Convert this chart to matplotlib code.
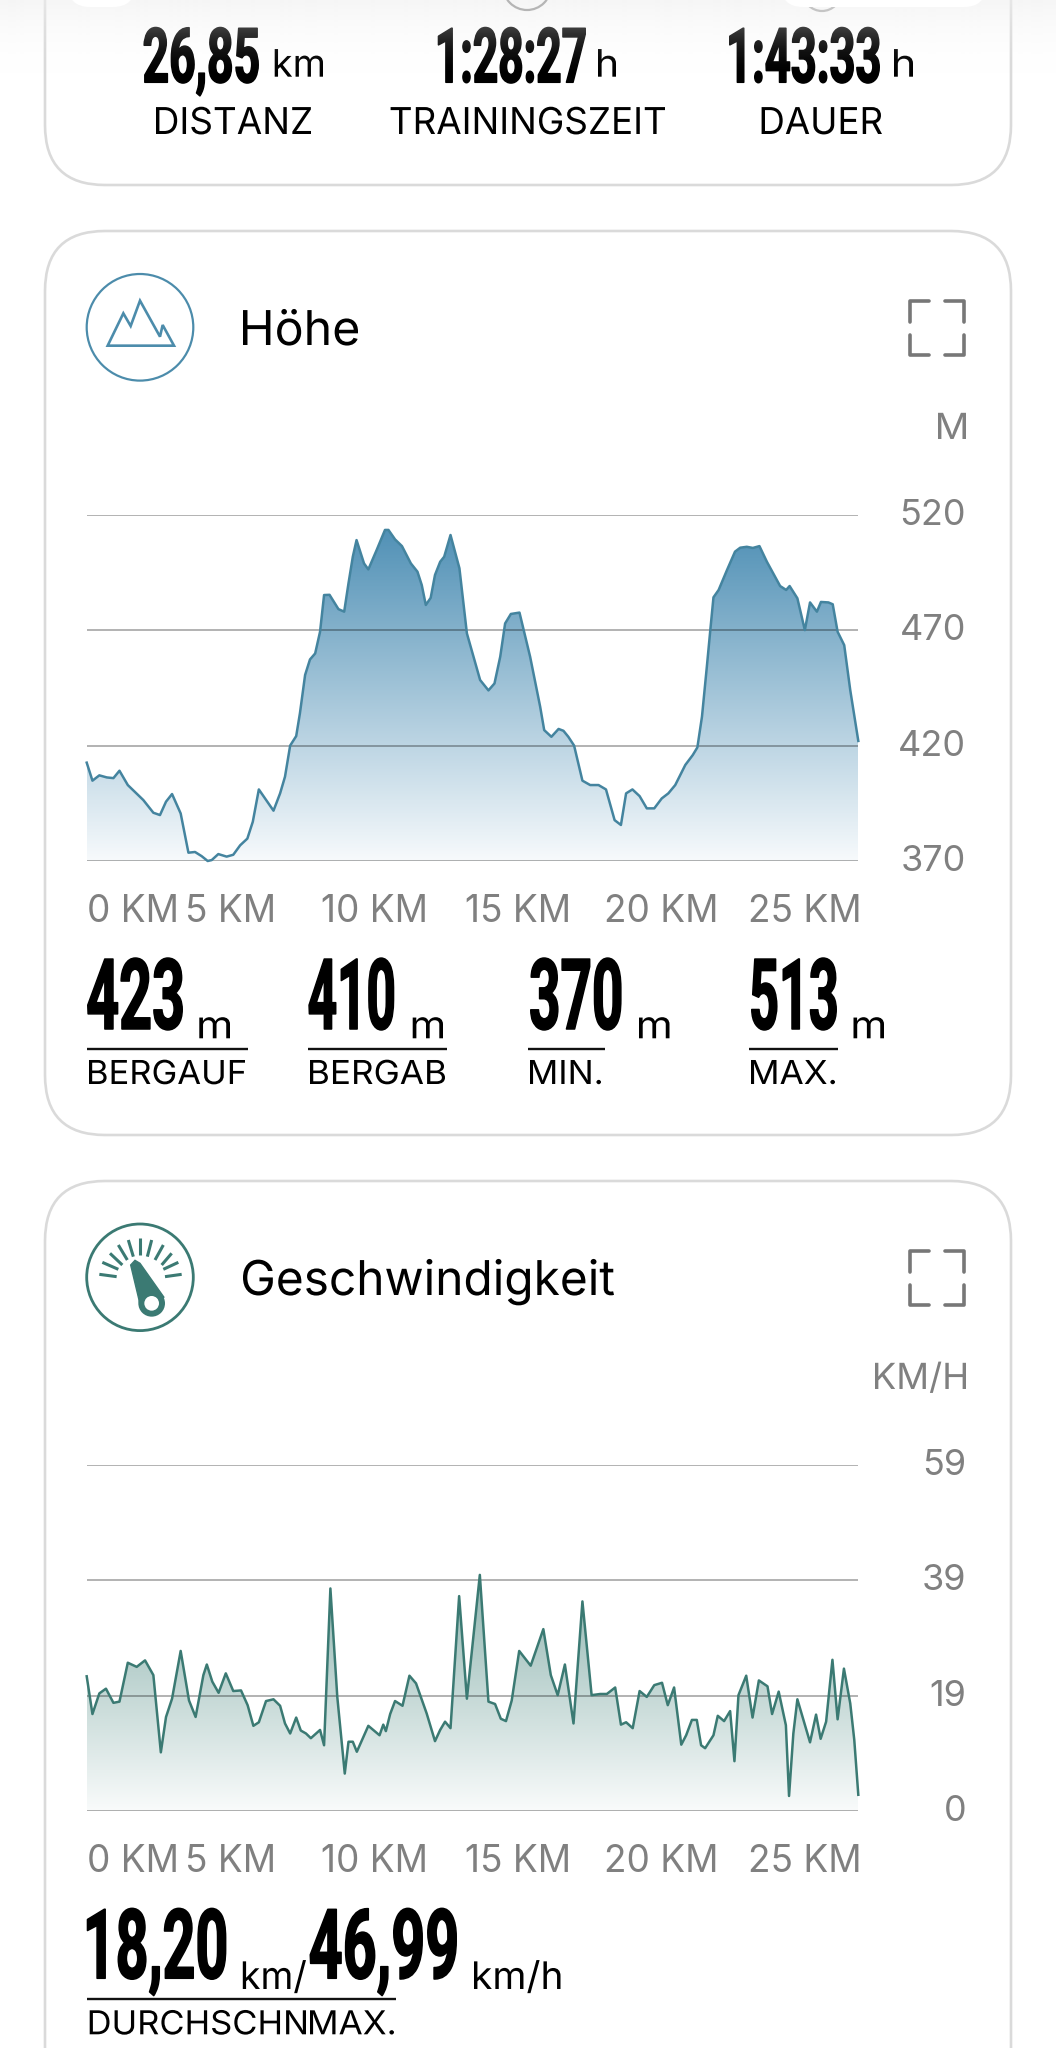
import numpy as np
import matplotlib
matplotlib.use("Agg")
import matplotlib.pyplot as plt
from matplotlib.colors import LinearSegmentedColormap
from matplotlib.font_manager import FontProperties
from matplotlib.patches import FancyBboxPatch, Circle, Polygon
from matplotlib.patheffects import AbstractPathEffect
from matplotlib.textpath import TextPath
from matplotlib.transforms import Affine2D, ScaledTranslation

# ---------- data ----------
km_ticks = [0, 5, 10, 15, 20, 25]
km_tick_labels = ["0 KM", "5 KM", "10 KM", "15 KM", "20 KM", "25 KM"]

alt_ticks = [370, 420, 470, 520]
alt_tick_labels = ["370", "420", "470", "520"]
alt_km = [0, .2, .44, .7, .93, 1.14, 1.43, 1.97, 2.32, 2.55, 2.76, 2.97, 3.27, 3.54, 3.77, 4.0, 4.21, 4.35, 4.58, 4.87,
          5.1, 5.34, 5.59, 5.78, 5.99, 6.5, 6.73, 6.9, 7.08, 7.29, 7.42, 7.6, 7.77, 7.95, 8.12, 8.26, 8.45, 8.76, 8.96,
          9.11, 9.26, 9.39, 9.65, 9.8, 10.09, 10.38, 10.5, 10.73, 10.97, 11.28, 11.51, 11.66, 11.8, 11.97, 12.12, 12.3,
          12.44, 12.66, 12.97, 13.11, 13.23, 13.46, 13.69, 13.98, 14.19, 14.39, 14.56, 14.76, 15.06, 15.43, 15.78,
          15.92, 16.17, 16.42, 16.59, 16.76, 16.96, 17.25, 17.52, 17.81, 18.07, 18.37, 18.59, 18.77, 18.99, 19.24,
          19.49, 19.75, 20.01, 20.24, 20.48, 20.83, 21.09, 21.25, 21.41, 21.58, 21.7, 21.81, 21.99, 22.28, 22.56, 22.74,
          22.97, 23.18, 23.41, 23.67, 24.13, 24.34, 24.46, 24.73, 24.99, 25.17, 25.41, 25.55, 25.81, 25.96, 26.13,
          26.36, 26.57, 26.85]
alt_m = [412.6, 404.8, 407.1, 406.2, 405.9, 409.1, 402.9, 396.4, 390.9, 389.9, 395.7, 399.0, 390.6, 373.6, 373.9, 372.1,
         370, 370.4, 373, 371.9, 372.7, 376.8, 379.7, 387, 401, 391.8, 399.3, 406.5, 420, 424.1, 434, 450.6, 457.3,
         459.9, 469.3, 485.2, 485.3, 479.1, 478, 490.3, 501.8, 509, 498.9, 496.3, 504.7, 513.4, 513.4, 509.3, 506.4,
         498.9, 495.3, 489.5, 480.9, 484, 493.9, 499.6, 501.8, 511.2, 496.8, 481.6, 468.6, 458.5, 448.4, 443.9, 446.9,
         458.5, 472.9, 477, 477.6, 458.5, 436.8, 426.7, 423.8, 427.2, 426.4, 423.8, 420, 404.8, 402.9, 402.9, 401,
         387.7, 385.6, 399.3, 401, 398.1, 392.8, 392.8, 397.1, 399.3, 402.9, 411.6, 415.9, 419.2, 432.5, 454.2, 470,
         484.2, 487.4, 496, 504, 505.7, 506.1, 505.6, 506.4, 499.6, 489.1, 487.4, 489.1, 483.8, 470, 482, 478, 482.2,
         482, 481.2, 469.3, 463.5, 444, 422]

speed_ticks = [0, 19.58, 39.16, 58.74]
speed_tick_labels = ["0", "19", "39", "59"]
speed_km = [0, .2, .44, .67, .93, 1.14, 1.43, 1.74, 2.03, 2.32, 2.58, 2.76, 2.97, 3.27, 3.56, 3.79, 4.06, 4.18, 4.37,
            4.59, 4.84, 5.1, 5.37, 5.6, 5.8, 5.99, 6.24, 6.5, 6.73, 6.9, 7.08, 7.29, 7.45, 7.63, 7.8, 8.12, 8.26, 8.48,
            8.72, 8.98, 9.11, 9.26, 9.4, 9.8, 10.19, 10.32, 10.41, 10.56, 10.73, 10.99, 11.23, 11.46, 11.83, 12.12,
            12.3, 12.47, 12.66, 12.96, 13.23, 13.68, 13.98, 14.21, 14.41, 14.59, 14.79, 15.05, 15.45, 15.89, 16.15,
            16.39, 16.64, 16.94, 17.25, 17.57, 17.87, 18.1, 18.39, 18.59, 18.77, 19.0, 19.24, 19.49, 19.75, 20.02,
            20.22, 20.44, 20.69, 20.86, 21.06, 21.23, 21.38, 21.52, 21.81, 21.96, 22.18, 22.39, 22.54, 22.68, 22.95,
            23.17, 23.39, 23.69, 23.85, 24.08, 24.33, 24.44, 24.59, 24.73, 25.17, 25.38, 25.54, 25.73, 25.95, 26.13,
            26.35, 26.57, 26.71, 26.85]
speed_v = [22.9, 16.5, 20, 20.8, 18.4, 18.6, 25.2, 24.5, 25.6, 23.1, 10, 16, 19.1, 27.2, 18.8, 16, 23.1, 24.9, 22, 20.1,
           23.4, 20.4, 20.5, 18, 14.5, 15.1, 18.7, 19, 17.9, 14.9, 13.2, 15.9, 13.7, 13.2, 12.4, 13.8, 11.2, 37.8, 19.4,
           6.4, 11.8, 11.8, 10.1, 14.5, 12.9, 14.7, 13.6, 16.5, 18.7, 17.9, 23, 21.7, 16.6, 11.9, 13.8, 15.2, 14.1,
           36.5, 19.1, 40.1, 18.6, 18.2, 15.7, 15.3, 18.8, 27.2, 24.7, 30.9, 23.1, 19.7, 24.9, 14.9, 35.6, 19.7, 19.9,
           19.9, 21, 14.7, 15.1, 14.1, 20.4, 19.4, 21.4, 21.8, 18, 21, 11.3, 12.9, 15.5, 15.5, 11.2, 10.7, 12.9, 16.2,
           15.3, 17, 8.5, 19.7, 23, 15.9, 22.2, 21.2, 16.5, 20.3, 14.6, 2.6, 13.2, 19, 11.7, 16.4, 12.3, 15.2, 25.7,
           15.6, 24.2, 18.3, 12.1, 2.8]

# ---------- page ----------
W, H, DPI = 1056, 2048, 100
FONT = ["Inter", "DejaVu Sans"]
BIG = ["Roboto", "DejaVu Sans"]
BLUE, TEAL = "#44849f", "#3b7a73"
GRAY = "#808080"
plt.rcParams["font.family"] = FONT

fig = plt.figure(figsize=(W / DPI, H / DPI), dpi=DPI, facecolor="white")
page = fig.add_axes([0, 0, 1, 1], zorder=0)
page.set_axis_off()
page.set_xlim(0, W)
page.set_ylim(H, 0)


class Tall(AbstractPathEffect):
    """Stretches real text vertically about its baseline, optionally thickening it."""
    def __init__(self, sy, stroke=0.0):
        super().__init__()
        self.sy, self.stroke = sy, stroke

    def draw_path(self, renderer, gc, tpath, affine, rgbFace=None):
        y0 = affine.get_matrix()[1, 2]
        a = affine + Affine2D().translate(0, -y0).scale(1, self.sy).translate(0, y0)
        gc0 = renderer.new_gc()
        gc0.copy_properties(gc)
        gc0.set_linewidth(self.stroke)
        gc0.set_foreground(rgbFace)
        renderer.draw_path(gc0, tpath, a, rgbFace)
        gc0.restore()


def label(x0, x1, base, s, px, family=FONT, weight="normal", color="black", stroke=0.0):
    """Real text with ink spanning x0..x1, baseline at base and the height of font size px (page pixels)."""
    fp = FontProperties(family=family, weight=weight)
    ext = TextPath((0, 0), s, size=px, prop=fp).get_extents()
    sx = (x1 - x0 - stroke * DPI / 72) / ext.width
    x = x0 + stroke * DPI / 144 - ext.x0 * sx
    t = page.text(x, base, s, fontproperties=fp, fontsize=px * sx * 72 / DPI, color=color,
                  ha="left", va="baseline", zorder=4)
    t.set_path_effects([Tall(1 / sx, stroke)])
    return t


def big(x0, x1, base, s, px):
    return label(x0, x1, base, s, px, family=BIG, weight="bold", stroke=1.1)


def card(y0, y1):
    page.add_patch(FancyBboxPatch((45, y0), 966, y1 - y0, boxstyle="round,pad=0,rounding_size=60",
                                  fc="white", ec="#dadada", lw=1.9))


card(-200, 185)
card(231, 1135)
card(1181, 2300)

# blurred veil of the app's floating bar at the top
veil = np.ones((160, 1, 4)) * 240 / 255
veil[:, 0, 3] = 0.6 * (1 - np.linspace(0, 1, 160)) ** 2
page.imshow(veil, extent=[0, W, 80, 0], aspect="auto", zorder=5)
page.set_xlim(0, W)
page.set_ylim(H, 0)

for x0, x1 in [(68, 135), (781, 986)]:
    page.add_patch(FancyBboxPatch((x0, -40), x1 - x0, 47, boxstyle="round,pad=0,rounding_size=22",
                                  fc="white", ec="none", zorder=6))
page.add_patch(Circle((527, -14), 24, fc="none", ec="#b5b5b5", lw=1.6, zorder=6))
page.add_patch(Circle((822, -8), 19, fc="none", ec="#c5c5c5", lw=1.6, zorder=5.5))

# top stats
big(143.4, 259, 82.3, "26,85", 76)
label(274.7, 323, 76.7, "km", 38)
big(437.7, 586, 82.3, "1:28:27", 76)
label(598, 616, 76.7, "h", 38)
big(729, 880, 82.3, "1:43:33", 76)
label(894, 913, 76.7, "h", 38)
label(156, 311, 134, "DISTANZ", 37)
label(390.6, 665, 134, "TRAININGSZEIT", 37)
label(761.6, 882, 134, "DAUER", 37)


def header(dy, title, x1, unit, ux0, color, ring):
    page.add_patch(Circle((140, 327.3 + dy), 53.3, fc="none", ec=color, lw=ring * 0.72))
    label(243, x1, 345 + dy, title, 48)
    label(ux0, 966, 439 + dy, unit, 36, color=GRAY)
    # expand icon
    for vy, cy in [(322, 300.5), (335, 354.5)]:
        page.plot([909.5, 909.5, 929], [vy + dy, cy + dy, cy + dy], color="#777777", lw=2.6,
                  solid_capstyle="round", solid_joinstyle="round")
        page.plot([963.5, 963.5, 944.5], [vy + dy, cy + dy, cy + dy], color="#777777", lw=2.6,
                  solid_capstyle="round", solid_joinstyle="round")


header(0, "Höhe", 358, "M", 938, "#4c8cab", 2.2)
header(950, "Geschwindigkeit", 614, "KM/H", 875, TEAL, 2.8)

# mountain icon
mx = [143, 190, 212, 240, 300, 308, 342]
my = [257, 160, 198, 122, 230, 195, 257]
page.add_patch(Polygon([(60 + a / 3, 260 + b / 3) for a, b in zip(mx, my)], closed=True, fc="none",
                       ec="#4c8cab", lw=1.9, joinstyle="miter"))

# gauge icon
gt = [((118, 193), (170, 200)), ((127, 157), (175, 178)), ((150, 130), (187, 165)), ((175, 105), (202, 150)),
      ((205, 90), (220, 140)), ((240, 85), (240, 135)), ((275, 90), (262, 140)), ((310, 105), (285, 150)),
      ((335, 130), (305, 165)), ((355, 157), (310, 178)), ((365, 193), (315, 200))]
for (a, b), (c, d) in gt:
    page.plot([60 + a / 3, 60 + c / 3], [1210 + b / 3, 1210 + d / 3], color=TEAL, lw=2.2, solid_capstyle="butt")
page.add_patch(Polygon([(60 + a / 3, 1210 + b / 3) for a, b in
                        [(212, 165), (225, 151), (240, 160), (312, 262), (243, 295)]], closed=True, fc=TEAL, ec=TEAL, lw=1))
page.add_patch(Circle((60 + 275 / 3, 1210 + 280 / 3), 37 / 3 + 1, fc=TEAL, ec="none"))
page.add_patch(Circle((60 + 275 / 3, 1210 + 280 / 3), 22 / 3, fc="white", ec="none"))


def stat(n0, n1, num, u0, u1, unit, l0, l1, cap, c0, c1, dy=0):
    big(n0, n1, 1029 + dy, num, 98.4)
    label(u0, u1, 1038.3 + dy, unit, 38)
    page.plot([l0, l1], [1049.3 + dy] * 2, color="#111111", lw=1.7, solid_capstyle="butt")
    label(c0, c1, 1084 + dy, cap, 33)


stat(87, 183, "423", 199.3, 230, "m", 86.7, 247.7, "BERGAUF", 89, 245)
stat(308.3, 394.3, "410", 412.7, 443, "m", 307.7, 446.7, "BERGAB", 310, 445)
stat(530, 621.6, "370", 639, 669.5, "m", 528.4, 604.6, "MIN.", 530, 601)
stat(751, 837, "513", 853.5, 884, "m", 749, 837.6, "MAX.", 751, 835)

big(86.7, 226.4, 1978.3, "18,20", 97)
label(242.8, 306, 1989, "km/", 38)
big(309.5, 457, 1978.3, "46,99", 97)
label(474, 560.5, 1989, "km/h", 38)
page.plot([86.7, 396], [1999.3, 1999.3], color="#111111", lw=1.7, solid_capstyle="butt")
label(89.7, 306, 2034.3, "DURCHSCHN", 33)
label(310, 394, 2034.3, "MAX.", 33)


# ---------- charts ----------
def chart(y_top, y_bot, x, y, yticks, ylabels, line_col, top_col, bot_col):
    ax = fig.add_axes([86.7 / W, 1 - y_bot / H, (858.3 - 86.7) / W, (y_bot - y_top) / H], zorder=2)
    ax.patch.set_alpha(0)
    for s in ax.spines.values():
        s.set_visible(False)
    cmap = LinearSegmentedColormap.from_list("g", [bot_col, top_col])
    poly = ax.fill_between(x, yticks[0], y, color="none", lw=0)
    im = ax.imshow(np.linspace(0, 1, 256)[:, None], extent=[0, 26.85, yticks[0], max(y)], origin="lower",
                   cmap=cmap, aspect="auto", zorder=1)
    path = poly.get_paths()[0]
    im.set_clip_path(path, transform=ax.transData)
    ax.plot(x, y, color=line_col, lw=1.8, zorder=3, clip_on=False, solid_joinstyle="round")
    ax.set_xlim(0, 26.85)
    ax.set_ylim(yticks[0], yticks[-1])
    ax.set_yticks(yticks, ylabels)
    ax.set_xticks(km_ticks, km_tick_labels)
    ax.grid(axis="y", color="black", alpha=0.38, lw=1.1, zorder=2)
    ax.set_axisbelow(False)
    ax.yaxis.tick_right()
    ax.tick_params(axis="x", length=0, pad=60.7 * 72 / DPI, labelsize=37 * 72 / DPI, labelcolor=GRAY)
    ax.tick_params(axis="y", length=0, pad=107.7 * 72 / DPI, labelsize=36 * 72 / DPI, labelcolor=GRAY)
    offs = ScaledTranslation(0, -10 / DPI, fig.dpi_scale_trans)
    for t in ax.get_yticklabels():
        t.set_ha("right")
        t.set_va("baseline")
        t.set_transform(t.get_transform() + offs)
    for t in ax.get_xticklabels():
        t.set_va("baseline")
    ax.get_xticklabels()[0].set_ha("left")
    return ax


chart(514.7, 861, alt_km, alt_m, alt_ticks, alt_tick_labels, BLUE, "#5191b6", "#f7fafc")
chart(1465, 1811.3, speed_km, speed_v, speed_ticks, speed_tick_labels, TEAL, "#8fb5b0", "#f9fbfb")

fig.savefig("out.png", dpi=DPI, facecolor="white")
